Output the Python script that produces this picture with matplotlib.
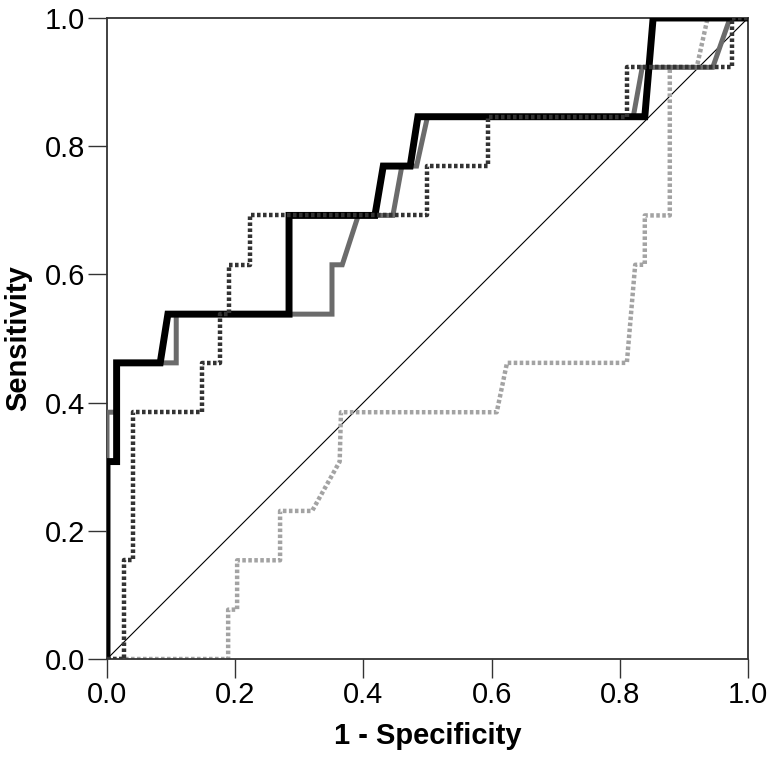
import matplotlib
matplotlib.use("Agg")
import matplotlib.pyplot as plt

plt.rcParams['font.family'] = ['Liberation Sans', 'DejaVu Sans']

# ROC curve points (1 - specificity, sensitivity)
black_x = [0, 0, 0.015, 0.015, 0.083, 0.095, 0.284, 0.284, 0.418, 0.431, 0.473, 0.485, 0.839, 0.852, 1.0]
black_y = [0, 0.308, 0.308, 0.462, 0.462, 0.538, 0.538, 0.692, 0.692, 0.769, 0.769, 0.846, 0.846, 1.0, 1.0]

gray_x = [0, 0, 0.015, 0.015, 0.108, 0.108, 0.351, 0.351, 0.367, 0.392, 0.446, 0.46, 0.483, 0.5, 0.821, 0.835, 0.945, 0.972, 1.0]
gray_y = [0, 0.385, 0.385, 0.462, 0.462, 0.538, 0.538, 0.615, 0.615, 0.692, 0.692, 0.769, 0.769, 0.846, 0.846, 0.923, 0.923, 1.0, 1.0]

dark_x = [0, 0.026, 0.026, 0.04, 0.04, 0.148, 0.148, 0.176, 0.176, 0.19, 0.19, 0.223, 0.223, 0.5, 0.5, 0.595, 0.595, 0.811, 0.811, 0.975, 0.975, 1.0]
dark_y = [0, 0, 0.154, 0.154, 0.385, 0.385, 0.462, 0.462, 0.538, 0.538, 0.615, 0.615, 0.692, 0.692, 0.769, 0.769, 0.846, 0.846, 0.923, 0.923, 1.0, 1.0]

light_x = [0, 0.189, 0.189, 0.203, 0.203, 0.27, 0.27, 0.32, 0.363, 0.365, 0.608, 0.624, 0.811, 0.824, 0.839, 0.839, 0.878, 0.878, 0.92, 0.937, 1.0]
light_y = [0, 0, 0.077, 0.077, 0.154, 0.154, 0.231, 0.231, 0.308, 0.385, 0.385, 0.462, 0.462, 0.615, 0.615, 0.692, 0.692, 0.923, 0.923, 1.0, 1.0]

ticks = [0.0, 0.2, 0.4, 0.6, 0.8, 1.0]
tick_labels = ["0.0", "0.2", "0.4", "0.6", "0.8", "1.0"]

fig = plt.figure(figsize=(7.72, 7.58), dpi=100)
ax = fig.add_axes([107/772, 1 - 659/758, 641/772, 641/758])

ax.plot([0, 1], [0, 1], color='black', lw=0.8, zorder=1)
ax.plot(light_x, light_y, color='#a3a3a3', lw=3.2, linestyle=(0, (0.8, 0.55)),
        dash_capstyle='butt', zorder=2)
ax.plot(gray_x, gray_y, color='#6b6b6b', lw=3.6, solid_joinstyle='miter', zorder=3)
ax.plot(black_x, black_y, color='black', lw=5.0, solid_joinstyle='miter', zorder=4)
ax.plot(dark_x, dark_y, color='#333333', lw=3.2, linestyle=(0, (0.8, 0.55)),
        dash_capstyle='butt', zorder=5)

ax.set_xlim(0, 1)
ax.set_ylim(0, 1)
ax.set_xticks(ticks)
ax.set_xticklabels(tick_labels)
ax.set_yticks(ticks)
ax.set_yticklabels(tick_labels)
ax.tick_params(axis='both', direction='out', length=14, width=1.0, color='#333333',
               labelsize=21, pad=2)
for s in ax.spines.values():
    s.set_color('#333333')
    s.set_linewidth(1.3)

ax.set_xlabel("1 - Specificity", fontsize=21, fontweight='bold', labelpad=9)
ax.set_ylabel("Sensitivity", fontsize=21, fontweight='bold', labelpad=9)

fig.savefig("out.png", dpi=100)
